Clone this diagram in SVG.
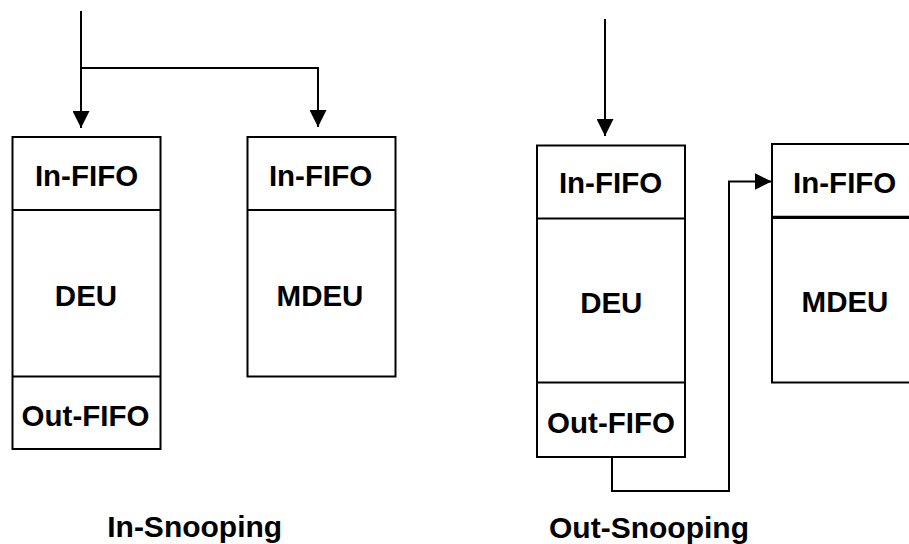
<svg xmlns="http://www.w3.org/2000/svg" width="909" height="544" viewBox="0 0 909 544">
<style>
.box{fill:#fff;stroke:#000;stroke-width:2}
.div{stroke:#000;stroke-width:2;fill:none}
.lbl{font-family:"Liberation Sans",Arial,sans-serif;font-weight:bold;font-size:29.5px;text-anchor:middle;fill:#000}
.cap{font-family:"Liberation Sans",Arial,sans-serif;font-weight:bold;font-size:30px;text-anchor:middle;fill:#000}
.con{stroke:#000;stroke-width:2;fill:none}
</style>
<defs>
<marker id="ah" viewBox="0 0 17 17" refX="17" refY="8.5" markerWidth="17" markerHeight="17" markerUnits="userSpaceOnUse" orient="auto">
<path d="M0,0 L17,8.5 L0,17 Z" fill="#000"/>
</marker>
</defs>
<rect width="909" height="544" fill="#fff"/>
<g id="connectors">
<path class="con" d="M81,11 V128" marker-end="url(#ah)"/>
<path class="con" d="M81,68 H318 V127" marker-end="url(#ah)"/>
<path class="con" d="M605,19 V136" marker-end="url(#ah)"/>
<path class="con" d="M612,457 V491 H729 V181.5 H771.5" marker-end="url(#ah)"/>
</g>
<g id="in-deu">
<rect class="box" x="12.5" y="137" width="148" height="312"/>
<line class="div" x1="12.5" y1="210" x2="160.5" y2="210"/>
<line class="div" x1="12.5" y1="376.5" x2="160.5" y2="376.5"/>
<text class="lbl" x="86.5" y="186">In-FIFO</text>
<text class="lbl" x="86" y="305.5">DEU</text>
<text class="lbl" x="85.5" y="425.5">Out-FIFO</text>
</g>
<g id="in-mdeu">
<rect class="box" x="247.5" y="137" width="148" height="239.5"/>
<line class="div" x1="247.5" y1="210" x2="395.5" y2="210"/>
<text class="lbl" x="320.5" y="186">In-FIFO</text>
<text class="lbl" x="320" y="305.5">MDEU</text>
</g>
<g id="out-deu">
<rect class="box" x="537" y="145.5" width="148" height="311.5"/>
<line class="div" x1="537" y1="218.5" x2="685" y2="218.5"/>
<line class="div" x1="537" y1="382.5" x2="685" y2="382.5"/>
<text class="lbl" x="610.5" y="193">In-FIFO</text>
<text class="lbl" x="611.3" y="313">DEU</text>
<text class="lbl" x="611" y="433">Out-FIFO</text>
</g>
<g id="out-mdeu">
<rect class="box" x="772" y="144" width="160" height="238.5"/>
<line x1="772" y1="217.3" x2="909" y2="217.3" stroke="#000" stroke-width="3.2"/>
<text class="lbl" x="844.7" y="192.5">In-FIFO</text>
<text class="lbl" x="845" y="311.5">MDEU</text>
</g>
<g id="captions">
<text class="cap" x="194.7" y="536.5">In-Snooping</text>
<text class="cap" x="649" y="538">Out-Snooping</text>
</g>
</svg>
